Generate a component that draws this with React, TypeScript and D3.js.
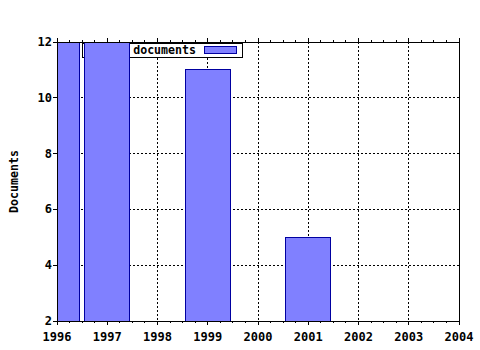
import React from "react";
import * as d3 from "d3";

const years = [1996, 1997, 1999, 2001];
const documents = [14, 13, 11, 5];
const xTicks = [1996, 1997, 1998, 1999, 2000, 2001, 2002, 2003, 2004];
const yTicks = [2, 4, 6, 8, 10, 12];
const seriesName = "documents";
const yTitle = "Documents";

const W = 480, H = 350;
const L = 57, R = 459, T = 42, B = 321;
const FONT = "'DejaVu Sans Mono', monospace";
const FILL = "#8080ff";
const EDGE = "#0000a0";

export default function App() {
  const x = d3.scaleLinear().domain([1996, 2004]).range([L, R]);
  const y = d3.scaleLinear().domain([2, 12]).range([B, T]);
  const minor = d3.range(1996, 2004.001, 0.25).filter((v) => Math.abs(v - Math.round(v)) > 0.01);
  const barW = 0.9;
  return (
    <svg width={W} height={H} style={{ position: "absolute", left: 0, top: 0, background: "#fff" }}>
      <defs>
        <clipPath id="plot">
          <rect x={L} y={T} width={R - L} height={B - T} />
        </clipPath>
      </defs>
      <rect x={0} y={0} width={W} height={H} fill="#fff" />
      {/* grid */}
      {xTicks.map((t) => (
        <line key={"gx" + t} x1={x(t)} x2={x(t)} y1={T} y2={B} stroke="#000" strokeDasharray="2,2" strokeWidth={1} shapeRendering="crispEdges" />
      ))}
      {yTicks.map((t) => (
        <line key={"gy" + t} x1={L} x2={R} y1={y(t)} y2={y(t)} stroke="#000" strokeDasharray="2,2" strokeWidth={1} shapeRendering="crispEdges" />
      ))}
      {/* legend */}
      <rect x={82} y={43} width={160} height={14} fill="#fff" stroke="#000" strokeWidth={1} shapeRendering="crispEdges" />
      <text x={196} y={54} textAnchor="end" fontFamily={FONT} fontWeight="bold" fontSize={11.6}>{seriesName}</text>
      <rect x={204} y={46} width={32} height={7} fill={FILL} stroke={EDGE} strokeWidth={1} shapeRendering="crispEdges" />
      {/* bars */}
      <g clipPath="url(#plot)">
        {years.map((yr, i) => {
          const x0 = x(yr - barW / 2);
          const x1 = x(yr + barW / 2);
          return (
            <rect key={yr} x={x0} y={y(documents[i])} width={x1 - x0} height={B - y(documents[i])}
              fill={FILL} stroke={EDGE} strokeWidth={1} shapeRendering="crispEdges" />
          );
        })}
      </g>
      {/* border */}
      <rect x={L} y={T} width={R - L} height={B - T} fill="none" stroke="#000" strokeWidth={1} shapeRendering="crispEdges" />
      {/* x ticks */}
      {xTicks.map((t) => (
        <g key={"xt" + t}>
          <line x1={x(t)} x2={x(t)} y1={B} y2={B + 4} stroke="#000" shapeRendering="crispEdges" />
          <line x1={x(t)} x2={x(t)} y1={T} y2={T - 4} stroke="#000" shapeRendering="crispEdges" />
          <text x={x(t)} y={341} textAnchor="middle" fontFamily={FONT} fontWeight="bold" fontSize={12}>{t}</text>
        </g>
      ))}
      {minor.map((t) => (
        <g key={"mt" + t}>
          <line x1={x(t)} x2={x(t)} y1={B} y2={B + 2} stroke="#000" shapeRendering="crispEdges" />
          <line x1={x(t)} x2={x(t)} y1={T} y2={T - 2} stroke="#000" shapeRendering="crispEdges" />
        </g>
      ))}
      {/* y ticks */}
      {yTicks.map((t) => (
        <g key={"yt" + t}>
          <line x1={L - 4} x2={L} y1={y(t)} y2={y(t)} stroke="#000" shapeRendering="crispEdges" />
          <text x={52} y={y(t) + 4} textAnchor="end" fontFamily={FONT} fontWeight="bold" fontSize={12}>{t}</text>
        </g>
      ))}
      <text transform={`translate(18,${(T + B) / 2}) rotate(-90)`} textAnchor="middle" fontFamily={FONT} fontWeight="bold" fontSize={11.6}>{yTitle}</text>
    </svg>
  );
}
